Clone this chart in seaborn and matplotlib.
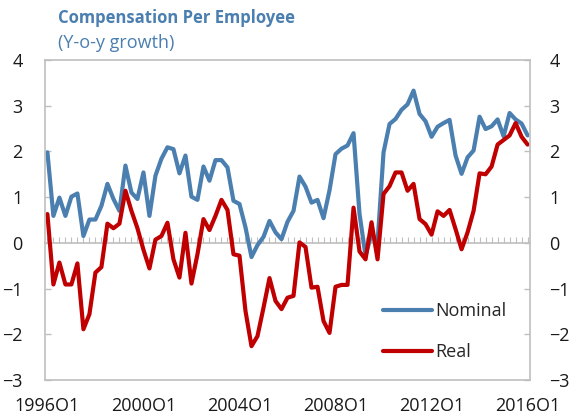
import matplotlib
matplotlib.use("Agg")
import matplotlib.pyplot as plt
import seaborn as sns
import pandas as pd

# quarterly y-o-y growth, 1996Q1 - 2016Q1
nominal = [1.98, 0.59, 0.99, 0.59, 1.01, 1.08, 0.15, 0.51, 0.51, 0.81,
           1.29, 0.96, 0.70, 1.69, 1.10, 0.96, 1.54, 0.59, 1.47, 1.84,
           2.09, 2.05, 1.52, 1.91, 1.01, 0.94, 1.67, 1.36, 1.81, 1.81,
           1.65, 0.92, 0.85, 0.34, -0.31, -0.05, 0.13, 0.48, 0.23, 0.08,
           0.46, 0.70, 1.45, 1.23, 0.88, 0.94, 0.54, 1.15, 1.94, 2.06,
           2.13, 2.40, 0.63, -0.28, 0.20, 0.00, 1.98, 2.60, 2.71, 2.91,
           3.03, 3.33, 2.82, 2.66, 2.32, 2.54, 2.62, 2.69, 1.91, 1.51,
           1.87, 2.02, 2.76, 2.49, 2.55, 2.70, 2.33, 2.84, 2.70, 2.61,
           2.35]
real = [0.63, -0.91, -0.43, -0.91, -0.91, -0.45, -1.89, -1.56, -0.65, -0.53,
        0.42, 0.32, 0.42, 1.14, 0.70, 0.32, -0.15, -0.56, 0.07, 0.15,
        0.44, -0.36, -0.76, 0.22, -0.89, -0.25, 0.52, 0.28, 0.59, 0.94,
        0.72, -0.25, -0.28, -1.49, -2.26, -2.04, -1.42, -0.77, -1.27, -1.45,
        -1.20, -1.16, 0.01, -0.09, -0.98, -0.96, -1.71, -1.97, -0.96, -0.92,
        -0.92, 0.77, -0.19, -0.36, 0.45, -0.36, 1.07, 1.24, 1.54, 1.54,
        1.14, 1.29, 0.52, 0.41, 0.18, 0.69, 0.59, 0.72, 0.30, -0.14,
        0.23, 0.70, 1.52, 1.50, 1.67, 2.15, 2.25, 2.35, 2.62, 2.32,
        2.15]
quarters = pd.period_range("1996Q1", "2016Q1", freq="Q").astype(str)
tick_labels = ["1996O1", "2000O1", "2004O1", "2008O1", "2012O1", "2016O1"]
y_ticks = [4, 3, 2, 1, 0, -1, -2, -3]

df = pd.DataFrame({"quarter": quarters, "Nominal": nominal, "Real": real})
df["idx"] = range(len(df))

sns.set_style("white")
plt.rcParams["font.family"] = ["Open Sans", "DejaVu Sans"]

blue = "#4a7fb0"
red = "#c00000"
grey = "#bfbfbf"

fig = plt.figure(figsize=(5.7, 4.15), dpi=100)
ax = fig.add_axes([45 / 570, 1 - 380 / 415, 485 / 570, 320 / 415])

sns.lineplot(data=df, x="idx", y="Nominal", ax=ax, color=blue, linewidth=3,
             label="Nominal", solid_joinstyle="round", solid_capstyle="round")
sns.lineplot(data=df, x="idx", y="Real", ax=ax, color=red, linewidth=3,
             label="Real", solid_joinstyle="round", solid_capstyle="round")

ax.set_xlim(-0.4, len(df) - 0.6)
ax.set_ylim(-3, 4)
ax.set_xlabel("")
ax.set_ylabel("")

ax.set_xticks(df["idx"][::16], tick_labels)
ax.set_yticks(y_ticks)
ax.tick_params(axis="x", length=0, pad=12, labelsize=13, colors="#1a1a1a")
ax.tick_params(axis="y", direction="in", length=4.5, width=1, color=grey,
               pad=16, labelsize=13, labelcolor="#1a1a1a")
for s in ax.spines.values():
    s.set_color(grey)
    s.set_linewidth(1.2)

# right hand axis, same scale
ax2 = ax.twinx()
ax2.set_ylim(ax.get_ylim())
ax2.set_yticks(y_ticks)
ax2.tick_params(axis="y", direction="in", length=4.5, width=1, color=grey,
                pad=14, labelsize=13, labelcolor="#1a1a1a")
for s in ax2.spines.values():
    s.set_visible(False)

# zero line with quarter ticks
zero = ax.secondary_xaxis(3 / 7)
zero.set_xticks(df["idx"])
zero.tick_params(axis="x", direction="in", length=4, width=0.8, color=grey,
                 labelbottom=False, labeltop=False)
for s in zero.spines.values():
    s.set_color(grey)
    s.set_linewidth(1.2)

ax.legend(loc="upper left", bbox_to_anchor=(383 / 570, 1 - 302 / 415),
          bbox_transform=fig.transFigure, frameon=False, fontsize=13,
          handlelength=2.7, handletextpad=0.2, labelspacing=1.3,
          borderpad=0, borderaxespad=0)

fig.text(58 / 570, 1 - 18 / 415, "Compensation Per Employee", color=blue,
         fontsize=12, fontweight="bold", va="center", ha="left")
fig.text(58 / 570, 1 - 43 / 415, "(Y-o-y growth)", color=blue,
         fontsize=13, va="center", ha="left")

fig.savefig("out.png", dpi=100)
